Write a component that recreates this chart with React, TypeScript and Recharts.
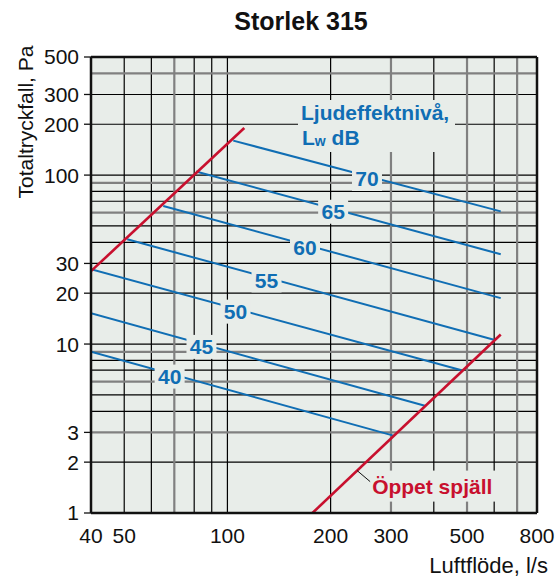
import React from "react"
import {
  ComposedChart,
  Line,
  Scatter,
  XAxis,
  YAxis,
  CartesianGrid,
  ReferenceLine,
} from "recharts"

// Ljudeffektnivå (dB): each curve is a straight line on log-log paper
const levels = [40, 45, 50, 55, 60, 65, 70]
const levelStartFlow = [40, 40, 40, 51, 65, 81, 104]
const levelStartPressure = [9.0, 15.2, 27.7, 41.7, 65.7, 105, 160]
const levelEndFlow = [305, 379, 482, 599, 627, 627, 627]
const levelEndPressure = [2.87, 4.3, 7.0, 10.6, 18.7, 34, 61]

// red limit lines
const limitFlow = [40, 112]
const limitPressure = [27, 190]
const openFlow = [177, 627]
const openPressure = [1, 11.4]

const xTicks = [40, 50, 100, 200, 300, 500, 800]
const yTicks = [1, 2, 3, 10, 20, 30, 100, 200, 300, 500]
const xGridBlack = [50, 60, 80, 90, 100, 200, 400, 600]
const xGridGray = [70, 300, 500, 700]
const yGridBlack = [2, 4, 5, 7, 8, 10, 20, 30, 40, 50, 70, 80, 100, 200, 300]
const yGridGray = [3, 6, 9, 60, 90, 400]

// where along each dB line its label sits (0 = start, 1 = end)
const labelAt = [0.26, 0.33, 0.39, 0.38, 0.42, 0.45, 0.5]

const BLUE = "#106eb4"
const RED = "#c8102e"
const BG = "#e8ede9"
const INK = "#111"
const FONT = "'Liberation Sans', Arial, Helvetica, sans-serif"

const pairs = (xs: number[], ys: number[]) => xs.map((x, i) => ({ x, y: ys[i] }))

// point on a log-log straight line at fraction t
const along = (x0: number, x1: number, y0: number, y1: number, t: number) => ({
  x: x0 * Math.pow(x1 / x0, t),
  y: y0 * Math.pow(y1 / y0, t),
})

const levelLines = levels.map((lv, i) => ({
  level: lv,
  data: [
    { x: levelStartFlow[i], y: levelStartPressure[i] },
    { x: levelEndFlow[i], y: levelEndPressure[i] },
  ],
}))

const levelLabels = levels.map((lv, i) => ({
  ...along(levelStartFlow[i], levelEndFlow[i], levelStartPressure[i], levelEndPressure[i], labelAt[i]),
  level: lv,
}))

const openT = Math.log(239 / openFlow[0]) / Math.log(openFlow[1] / openFlow[0])
const openLabel = [along(openFlow[0], openFlow[1], openPressure[0], openPressure[1], openT)]

const LevelLabel = (props: any) => {
  const { cx, cy, payload } = props
  return (
    <g>
      <rect x={cx - 15} y={cy - 9} width={30} height={24} fill={BG} />
      <text
        x={cx}
        y={cy + 3}
        textAnchor="middle"
        dominantBaseline="central"
        fill={BLUE}
        fontFamily={FONT}
        fontWeight="bold"
        fontSize={21}
      >
        {payload.level}
      </text>
    </g>
  )
}

const OpenLabel = (props: any) => {
  const { cx, cy } = props
  return (
    <g>
      <rect x={cx + 13} y={cy} width={127} height={31} fill={BG} />
      <line x1={cx} y1={cy} x2={cx + 13} y2={cy + 11} stroke={INK} strokeWidth={1} />
      <text x={cx + 15} y={cy + 23} fill={RED} fontFamily={FONT} fontWeight="bold" fontSize={21}>
        Öppet spjäll
      </text>
    </g>
  )
}

export default function App() {
  const tickStyle = { fill: INK, fontSize: 21, fontFamily: FONT }
  return (
    <div style={{ position: "absolute", left: 0, top: 0, width: 559, height: 577, background: "#fff" }}>
      <ComposedChart width={559} height={577} margin={{ top: 57, right: 22, bottom: 0, left: 0 }}>
        <CartesianGrid
          fill={BG}
          stroke="#000"
          strokeWidth={1.2}
          verticalValues={xGridBlack}
          horizontalValues={yGridBlack}
        />
        <CartesianGrid
          stroke="#808080"
          strokeWidth={2.2}
          verticalValues={xGridGray}
          horizontalValues={yGridGray}
        />
        <XAxis
          type="number"
          dataKey="x"
          scale="log"
          domain={[40, 800]}
          ticks={xTicks}
          interval={0}
          allowDataOverflow
          height={64}
          axisLine={{ stroke: INK, strokeWidth: 2.5 }}
          tickLine={{ stroke: "none" }}
          tickSize={6}
          tickMargin={9}
          tick={tickStyle}
        />
        <YAxis
          type="number"
          scale="log"
          domain={[1, 500]}
          ticks={yTicks}
          interval={0}
          allowDataOverflow
          width={91}
          axisLine={{ stroke: INK, strokeWidth: 2.5 }}
          tickLine={{ stroke: INK, strokeWidth: 1.3 }}
          tickSize={7}
          tickMargin={5}
          tick={tickStyle}
        />
        <ReferenceLine x={800} stroke={INK} strokeWidth={2.5} />
        <ReferenceLine y={500} stroke={INK} strokeWidth={2.5} />

        {levelLines.map((l) => (
          <Line
            key={l.level}
            data={l.data}
            dataKey="y"
            stroke={BLUE}
            strokeWidth={2}
            dot={false}
            activeDot={false}
            isAnimationActive={false}
          />
        ))}
        <Line
          data={pairs(limitFlow, limitPressure)}
          dataKey="y"
          stroke={RED}
          strokeWidth={2.6}
          dot={false}
          activeDot={false}
          isAnimationActive={false}
        />
        <Line
          data={pairs(openFlow, openPressure)}
          dataKey="y"
          stroke={RED}
          strokeWidth={2.6}
          dot={false}
          activeDot={false}
          isAnimationActive={false}
        />
        <Scatter data={levelLabels} dataKey="y" shape={LevelLabel} isAnimationActive={false} />
        <Scatter data={openLabel} dataKey="y" shape={OpenLabel} isAnimationActive={false} />
      </ComposedChart>

      <svg
        width={559}
        height={577}
        style={{ position: "absolute", left: 0, top: 0, pointerEvents: "none" }}
      >
        <text
          x={301}
          y={21}
          textAnchor="middle"
          dominantBaseline="central"
          fontFamily={FONT}
          fontWeight="bold"
          fontSize={25}
          fill={INK}
        >
          Storlek 315
        </text>
        <text
          x={25}
          y={122}
          transform="rotate(-90 25 122)"
          textAnchor="middle"
          dominantBaseline="central"
          fontFamily={FONT}
          fontSize={21}
          fill={INK}
        >
          Totaltryckfall, Pa
        </text>
        <text
          x={548}
          y={565}
          textAnchor="end"
          dominantBaseline="central"
          fontFamily={FONT}
          fontSize={22}
          fill={INK}
        >
          Luftflöde, l/s
        </text>
        <rect x={298} y={100} width={157} height={52} fill={BG} />
        <text x={301} y={112} dominantBaseline="central" fontFamily={FONT} fontWeight="bold" fontSize={21} fill={BLUE}>
          Ljudeffektnivå,
        </text>
        <text x={302} y={137} dominantBaseline="central" fontFamily={FONT} fontWeight="bold" fontSize={21} fill={BLUE}>
          L
          <tspan fontSize={14} dy={4}>w</tspan>
          <tspan dy={-4}> dB</tspan>
        </text>
      </svg>
    </div>
  )
}
